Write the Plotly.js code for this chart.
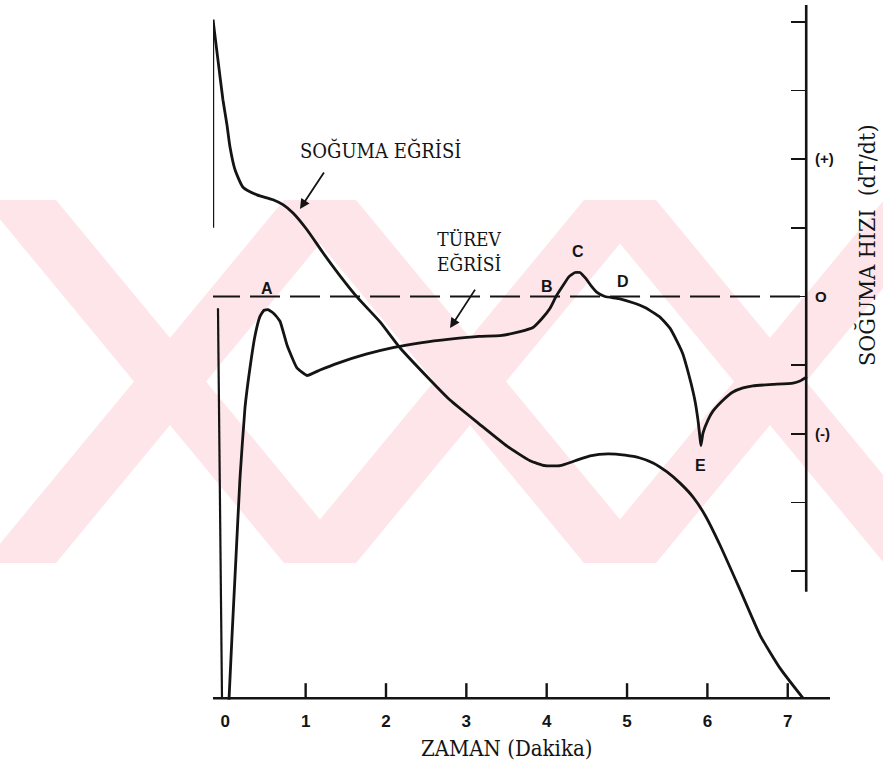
<!DOCTYPE html>
<html>
<head>
<meta charset="utf-8">
<script src="https://cdn.plot.ly/plotly-3.0.1.min.js"></script>
<style>
  html, body { margin: 0; padding: 0; background: #ffffff; }
  #chart { width: 883px; height: 771px; }
</style>
</head>
<body>
<div id="chart"></div>
<script>
// Time axis (minutes)
var timeTicks = [0, 1, 2, 3, 4, 5, 6, 7];
var timeTickLabels = ['0', '1', '2', '3', '4', '5', '6', '7'];

// Cooling-rate axis (dT/dt, arbitrary units; only sign labels are shown)
var rateTicks = [-4, -3, -2, -1, 0, 1, 2, 3, 4];
var rateTickLabels = ['', '', '(-)', '', 'O', '', '(+)', '', ''];

// Cooling curve (SOĞUMA EĞRİSİ): time (min) vs relative temperature (0-100)
var coolTime = [-0.153, -0.091, -0.029, 0.021, 0.058, 0.121, 0.220, 0.394, 0.594, 0.718,
                0.843, 1.017, 1.216, 1.428, 1.652, 1.926, 2.174, 2.523, 2.797, 3.158,
                3.507, 3.793, 3.980, 4.166, 4.353, 4.540, 4.764, 4.976, 5.162, 5.324,
                5.498, 5.660, 5.822, 5.971, 6.158, 6.407, 6.656, 6.903, 7.190];
var coolTemp = [97.9, 92.1, 86.4, 82.8, 79.7, 76.4, 73.9, 72.8, 72.1, 71.4,
                70.2, 67.8, 64.5, 61.2, 58.0, 54.6, 50.9, 46.6, 43.4, 40.0,
                36.8, 34.7, 34.0, 34.0, 34.7, 35.4, 35.7, 35.5, 35.1, 34.4,
                33.1, 31.5, 29.5, 26.9, 22.6, 16.2, 9.7, 5.0, 0.7];

// Derivative curve (TÜREV EĞRİSİ): time (min) vs cooling rate dT/dt
var derivTime = [0.046, 0.083, 0.133, 0.183, 0.245, 0.307, 0.370, 0.432, 0.482, 0.531,
                 0.606, 0.681, 0.769, 0.892, 1.017, 1.179, 1.403, 1.752, 2.100, 2.449,
                 2.797, 3.158, 3.419, 3.668, 3.830, 3.942, 4.042, 4.116, 4.203, 4.278,
                 4.352, 4.414, 4.489, 4.551, 4.626, 4.725, 4.899, 5.074, 5.223, 5.410,
                 5.534, 5.621, 5.696, 5.746, 5.796, 5.846, 5.883, 5.908, 5.920, 5.945,
                 6.007, 6.069, 6.194, 6.318, 6.443, 6.567, 6.816, 7.065, 7.152, 7.239];
var derivRate = [-5.87, -4.96, -3.80, -2.64, -1.62, -1.04, -0.57, -0.29, -0.20, -0.19,
                 -0.25, -0.36, -0.71, -1.04, -1.15, -1.07, -0.97, -0.84, -0.74, -0.67,
                 -0.62, -0.58, -0.57, -0.51, -0.45, -0.32, -0.17, 0.00, 0.16, 0.29,
                 0.35, 0.35, 0.26, 0.16, 0.06, 0.00, -0.03, -0.09, -0.16, -0.30,
                 -0.46, -0.65, -0.84, -1.04, -1.26, -1.52, -1.80, -2.06, -2.17, -1.99,
                 -1.80, -1.67, -1.51, -1.39, -1.33, -1.30, -1.28, -1.26, -1.23, -1.17];

// Point labels on the derivative curve
var pointNames = ['A', 'B', 'C', 'D', 'E'];
var pointTime = [0.52, 4.00, 4.39, 4.95, 5.91];
var pointRate = [0.12, 0.15, 0.65, 0.22, -2.46];

var INK = '#141414';
var PINK = '#fde5ea';
var serif = 'DejaVu Serif Condensed, DejaVu Serif, Liberation Serif, serif';
var sans = 'Liberation Sans, Arial, sans-serif';

var W = 883, H = 771;
var M = { l: 213, r: 53, t: 5, b: 68 };
var PW = W - M.l - M.r, PH = H - M.t - M.b;
var X_RANGE = [-0.153, 7.526];
var Y_RANGE = [-5.92, 4.246];
var RATE_PX = PH / (Y_RANGE[1] - Y_RANGE[0]);
var AXIS_Y = -5.85;   // where the time axis line sits (rate units)
function px(x) { return (x - M.l) / PW; }
function py(y) { return (H - M.b - y) / PH; }

var traces = [
  {
    x: coolTime, y: coolTemp, yaxis: 'y2', type: 'scatter', mode: 'lines',
    line: { color: INK, width: 2.8, shape: 'spline', smoothing: 0.5 },
    hoverinfo: 'skip', showlegend: false
  },
  {
    x: derivTime, y: derivRate, yaxis: 'y', type: 'scatter', mode: 'lines',
    line: { color: INK, width: 2.8, shape: 'spline', smoothing: 0.4 },
    hoverinfo: 'skip', showlegend: false
  }
];

var annotations = [];
for (var i = 0; i < pointNames.length; i++) {
  annotations.push({
    x: pointTime[i], y: pointRate[i], xref: 'x', yref: 'y',
    xanchor: 'center', yanchor: 'middle',
    text: '<b>' + pointNames[i] + '</b>', showarrow: false,
    font: { family: sans, size: 16, color: INK }
  });
}
annotations.push(
  { x: 1.936, y: 2.12, xref: 'x', yref: 'y', xanchor: 'center', yanchor: 'middle',
    text: 'SOĞUMA EĞRİSİ', showarrow: false,
    font: { family: serif, size: 20, color: INK } },
  { x: 3.045, y: 0.65, xref: 'x', yref: 'y', xanchor: 'center', yanchor: 'middle',
    text: 'TÜREV<br>EĞRİSİ', showarrow: false,
    font: { family: serif, size: 19, color: INK } },
  { x: 0.929, y: 1.275, xref: 'x', yref: 'y', text: '', showarrow: true,
    ax: 25, ay: -38, arrowhead: 2, arrowsize: 1.1, arrowwidth: 1.8, arrowcolor: INK, standoff: 0 },
  { x: 2.797, y: -0.46, xref: 'x', yref: 'y', text: '', showarrow: true,
    ax: 26, ay: -40, arrowhead: 2, arrowsize: 1.1, arrowwidth: 1.8, arrowcolor: INK, standoff: 0 },
  { x: px(506), y: py(748), xref: 'paper', yref: 'paper', xanchor: 'center', yanchor: 'middle',
    text: 'ZAMAN (Dakika)', showarrow: false,
    font: { family: serif, size: 22, color: INK } },
  { x: px(867), y: py(246), xref: 'paper', yref: 'paper', xanchor: 'center', yanchor: 'middle',
    text: 'SOĞUMA HIZI  (dT/dt)', textangle: -90,
    showarrow: false, font: { family: serif, size: 23, color: INK } }
);

// Faint pink watermark pattern (crossed diagonal bands) behind the chart
var shapes = [];
var bandTop = 200, bandBot = 563, half = 150, bw = 36;
var xCenters = [170, 470, 770];
function band(xt, xb) {
  return 'M ' + px(xt - bw) + ',' + py(bandTop) + ' L ' + px(xt + bw) + ',' + py(bandTop) +
         ' L ' + px(xb + bw) + ',' + py(bandBot) + ' L ' + px(xb - bw) + ',' + py(bandBot) + ' Z';
}
xCenters.forEach(function (cx) {
  shapes.push({ type: 'path', xref: 'paper', yref: 'paper', layer: 'below',
    path: band(cx - half, cx + half), fillcolor: PINK, line: { width: 0 } });
  shapes.push({ type: 'path', xref: 'paper', yref: 'paper', layer: 'below',
    path: band(cx + half, cx - half), fillcolor: PINK, line: { width: 0 } });
});

shapes.push(
  // time axis line
  { type: 'line', xref: 'x', yref: 'y', x0: X_RANGE[0], x1: X_RANGE[1], y0: AXIS_Y, y1: AXIS_Y,
    line: { color: INK, width: 2.4 } },
  // zero (reference) dashed line
  { type: 'line', xref: 'x', yref: 'y', x0: -0.19, x1: 7.23, y0: 0, y1: 0,
    line: { color: INK, width: 2, dash: '30px,10px' } },
  // right rate axis line
  { type: 'line', xref: 'x', yref: 'y', x0: 7.23, x1: 7.23, y0: 4.246, y1: -4.30,
    line: { color: INK, width: 2.6 } },
  // left vertical reference lines
  { type: 'line', xref: 'x', yref: 'y2', x0: -0.153, x1: -0.153, y0: 97.9, y1: 68.1,
    line: { color: INK, width: 2.4 } },
  { type: 'line', xref: 'x', yref: 'y', x0: -0.091, x1: -0.041, y0: -0.17, y1: AXIS_Y,
    line: { color: INK, width: 2.2 } }
);
timeTicks.forEach(function (t) {
  if (t === 0) return;
  shapes.push({ type: 'line', xref: 'x', yref: 'y', x0: t, x1: t,
    y0: AXIS_Y, y1: AXIS_Y + 15 / RATE_PX, line: { color: INK, width: 2.4 } });
});

var layout = {
  width: W, height: H,
  margin: M,
  paper_bgcolor: '#ffffff', plot_bgcolor: 'rgba(0,0,0,0)',
  showlegend: false,
  xaxis: {
    range: X_RANGE, tickvals: timeTicks, ticktext: timeTickLabels,
    ticks: '', showline: false,
    showgrid: false, zeroline: false, ticklabelstandoff: 6,
    tickfont: { family: sans, size: 17, weight: 'bold', color: INK }
  },
  yaxis: {
    range: Y_RANGE, side: 'right', anchor: 'free', position: 0.961,
    tickvals: rateTicks, ticktext: rateTickLabels,
    ticks: 'inside', ticklen: 15, tickwidth: 1.5, tickcolor: INK,
    showline: false, showgrid: false, zeroline: false, ticklabelstandoff: 8,
    tickfont: { family: sans, size: 15, weight: 'bold', color: INK }
  },
  yaxis2: { range: [0, 100], overlaying: 'y', visible: false, showgrid: false, zeroline: false },
  shapes: shapes,
  annotations: annotations
};

Plotly.newPlot('chart', traces, layout, { displayModeBar: false, staticPlot: true });
</script>
</body>
</html>
